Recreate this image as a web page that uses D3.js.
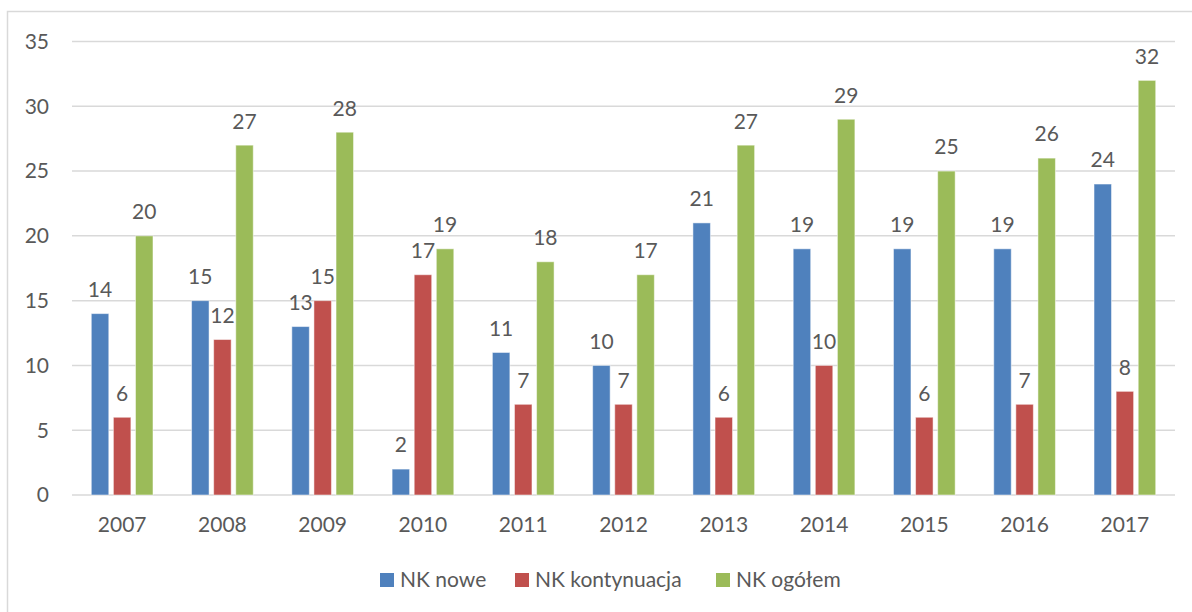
<!DOCTYPE html>
<html>
<head>
<meta charset="utf-8">
<script src="https://cdn.jsdelivr.net/npm/d3@7"></script>
<style>
  body { margin: 0; background: #fff; }
  text { font-family: Lato, "Open Sans", sans-serif; fill: #595959; }
</style>
</head>
<body>
<div id="chart"></div>
<script>
//chart data
var years = ["2007", "2008", "2009", "2010", "2011", "2012", "2013", "2014", "2015", "2016", "2017"];
var seriesNames = ["NK nowe", "NK kontynuacja", "NK ogółem"];
var nkNowe = [14, 15, 13, 2, 11, 10, 21, 19, 19, 19, 24];
var nkKontynuacja = [6, 12, 15, 17, 7, 7, 6, 10, 6, 7, 8];
var nkOgolem = [20, 27, 28, 19, 18, 17, 27, 29, 25, 26, 32];
var yTicks = [0, 5, 10, 15, 20, 25, 30, 35];
var colors = ["#4F81BD", "#C0504D", "#9BBB59"];

var w = 1192;
var h = 612;

var svg = d3.select("#chart").append("svg").attr("width", w).attr("height", h);

//outer border of chart area
svg.append("rect")
  .attr("x", 7.5).attr("y", 11.5)
  .attr("width", w).attr("height", h)
  .attr("fill", "none").attr("stroke", "#d9d9d9").attr("stroke-width", 1.5);

var plotLeft = 72, plotRight = 1175, plotTop = 41.5, plotBottom = 495;

var xScale = d3.scaleBand().domain(years).range([plotLeft, plotRight]);
var yScale = d3.scaleLinear().domain([0, 35]).range([plotBottom, plotTop]);

//gridlines
svg.selectAll(".grid")
  .data(yTicks)
  .enter()
  .append("line")
  .attr("x1", plotLeft).attr("x2", plotRight)
  .attr("y1", function (d) { return yScale(d); })
  .attr("y2", function (d) { return yScale(d); })
  .attr("stroke", "#d9d9d9").attr("stroke-width", 1.5);

//y labels
svg.selectAll(".ylab")
  .data(yTicks)
  .enter()
  .append("text")
  .attr("x", 49)
  .attr("y", function (d) { return yScale(d); })
  .attr("dy", "0.35em")
  .attr("text-anchor", "end")
  .style("font-size", "21px")
  .text(function (d) { return d; });

//x labels
svg.selectAll(".xlab")
  .data(years)
  .enter()
  .append("text")
  .attr("x", function (d) { return xScale(d) + xScale.bandwidth() / 2; })
  .attr("y", 525)
  .attr("dy", "0.35em")
  .attr("text-anchor", "middle")
  .style("font-size", "21px")
  .text(function (d) { return d; });

//bars
var allSeries = [nkNowe, nkKontynuacja, nkOgolem];
var barW = 17.5, barGap = 4.6;
var groupW = barW * 3 + barGap * 2;
var inner = d3.scaleBand().domain([0, 1, 2]).range([0, groupW]).paddingInner(barGap / (barW + barGap));

var rows = [];
allSeries.forEach(function (vals, s) {
  vals.forEach(function (v, i) {
    rows.push({ s: s, year: years[i], value: v });
  });
});

function barX(d) {
  return xScale(d.year) + (xScale.bandwidth() - groupW) / 2 + inner(d.s);
}

svg.selectAll(".bar")
  .data(rows)
  .enter()
  .append("rect")
  .attr("x", barX)
  .attr("y", function (d) { return yScale(d.value); })
  .attr("width", inner.bandwidth())
  .attr("height", function (d) { return plotBottom - yScale(d.value); })
  .attr("fill", function (d) { return colors[d.s]; })
  .attr("stroke", "#ffffff").attr("stroke-opacity", 0.5).attr("stroke-width", 1);

//value labels
svg.selectAll(".val")
  .data(rows)
  .enter()
  .append("text")
  .attr("x", function (d) { return barX(d) + inner.bandwidth() / 2; })
  .attr("y", function (d) { return yScale(d.value) - 24; })
  .attr("dy", "0.35em")
  .attr("text-anchor", "middle")
  .style("font-size", "21px")
  .text(function (d) { return d.value; });

//legend
var legendX = [380, 515, 716];
var legend = svg.selectAll(".leg")
  .data(seriesNames)
  .enter()
  .append("g")
  .attr("transform", function (d, i) { return "translate(" + legendX[i] + ",573)"; });

legend.append("rect")
  .attr("width", 14).attr("height", 14)
  .attr("fill", function (d, i) { return colors[i]; });

legend.append("text")
  .attr("x", 20).attr("y", 7)
  .attr("dy", "0.35em")
  .style("font-size", "21px")
  .text(function (d) { return d; });
</script>
</body>
</html>
